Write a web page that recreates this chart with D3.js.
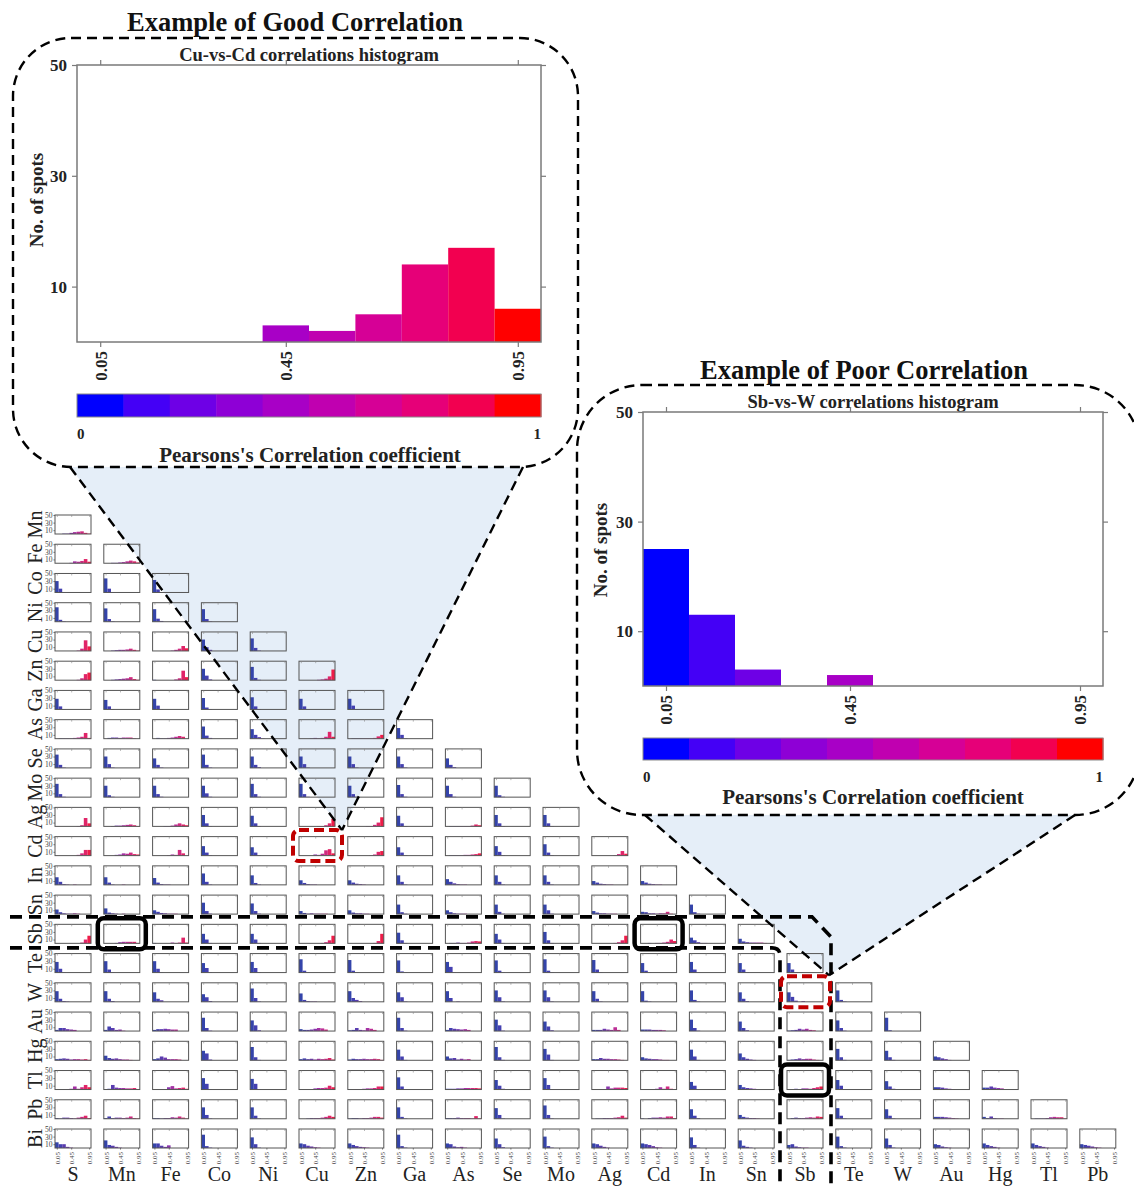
<!DOCTYPE html>
<html>
<head>
<meta charset="utf-8">
<script src="https://cdn.jsdelivr.net/npm/d3@7"></script>
<style>
  body { margin: 0; background: #fff; }
  svg { display: block; }
</style>
</head>
<body>
<svg id="fig" width="1134" height="1186"></svg>
<script>
// ---- element labels ----
const colElements = ["S","Mn","Fe","Co","Ni","Cu","Zn","Ga","As","Se","Mo","Ag","Cd","In","Sn","Sb","Te","W","Au","Hg","Tl","Pb"];
const rowElements = ["Mn","Fe","Co","Ni","Cu","Zn","Ga","As","Se","Mo","Ag","Cd","In","Sn","Sb","Te","W","Au","Hg","Tl","Pb","Bi"];

// ---- histogram bins (Pearson r) and ticks ----
const binEdges = [0,0.1,0.2,0.3,0.4,0.5,0.6,0.7,0.8,0.9,1];
const xTickValues = [0.05, 0.45, 0.95];
const xTickLabels = ["0.05","0.45","0.95"];
const yTickValues = [10, 30, 50];
const colorbarLabels = ["0","1"];

// ---- colours ----
const binColours = ["#0000ff","#4400f6","#6e00e6","#8e00d6","#a800c6","#c000b0","#d60096","#e60078","#f20050","#ff0000"];
const miniColours = ["#3444aa","#4440b0","#5a3cb0","#703ab0","#8a36ac","#a432a4","#bc2e96","#d02a80","#e02468","#ee1c48"];

// ---- the two highlighted pairs ----
const cuVsCd = [0,0,0,0,3,2,5,14,17,6];
const sbVsW  = [25,13,3,0,2,0,0,0,0,0];

// ---- counts per pair, one array per row element (columns S, Mn, Fe, ...) ----
const rowMn = [
  [0,0,1,1,3,5,6,7,3,1]
];
const rowFe = [
  [0,0,0,0,1,5,4,6,11,4],
  [0,0,1,1,2,3,5,7,5,2]
];
const rowCo = [
  [30,10,1,0,0,0,0,0,0,0],
  [37,10,1,0,0,0,0,0,0,0],
  [33,8,1,0,0,0,0,0,0,0]
];
const rowNi = [
  [38,5,1,0,0,0,0,0,0,0],
  [35,7,1,0,0,0,0,0,0,0],
  [33,8,2,0,0,0,0,0,0,0],
  [33,7,1,0,0,0,0,0,0,0]
];
const rowCu = [
  [0,0,0,0,0,0,1,6,28,12],
  [0,0,1,2,3,3,4,6,3,1],
  [0,0,0,0,0,1,3,6,13,7],
  [30,10,3,0,0,0,0,0,0,0],
  [33,8,1,0,0,0,0,0,0,0]
];
const rowZn = [
  [0,0,0,0,0,0,1,5,16,20],
  [0,0,1,2,3,4,5,8,3,1],
  [1,0,0,0,0,0,2,5,25,8],
  [30,12,2,0,0,0,0,0,0,0],
  [35,6,1,0,0,0,0,0,0,0],
  [0,0,0,0,0,1,2,4,10,28]
];
const rowGa = [
  [28,8,1,0,0,0,0,0,0,0],
  [25,8,1,0,0,0,0,0,0,0],
  [28,10,1,0,0,0,0,0,0,0],
  [30,5,1,0,0,0,0,0,0,0],
  [32,8,1,0,0,0,0,0,0,0],
  [28,8,1,0,0,0,0,0,0,0],
  [28,10,1,0,0,0,0,0,0,0]
];
const rowAs = [
  [0,1,1,1,1,2,3,5,15,2],
  [0,2,3,3,2,3,3,3,1,0],
  [0,2,1,1,2,3,5,7,5,0],
  [32,8,2,0,0,0,0,0,0,0],
  [25,10,4,1,0,0,0,0,0,0],
  [0,0,0,1,2,1,2,5,18,5],
  [0,1,1,1,1,1,1,2,6,10],
  [28,10,1,0,0,0,0,0,0,0]
];
const rowSe = [
  [35,8,1,0,0,0,0,0,0,0],
  [30,10,1,0,0,0,0,0,0,0],
  [25,8,1,0,0,0,0,0,0,0],
  [35,8,1,0,0,0,0,0,0,0],
  [30,8,2,0,0,0,0,0,0,0],
  [30,10,1,0,0,0,0,0,0,0],
  [30,10,1,0,0,0,0,0,0,0],
  [30,10,1,0,0,0,0,0,0,0],
  [25,8,2,0,0,0,0,0,0,0]
];
const rowMo = [
  [35,8,1,0,0,0,0,0,0,0],
  [30,5,1,0,0,0,0,0,0,0],
  [30,8,1,0,0,0,0,0,0,0],
  [30,10,1,0,0,0,0,0,0,0],
  [35,8,1,0,0,0,0,0,0,0],
  [35,8,1,0,0,0,0,0,0,0],
  [30,8,1,0,0,0,0,0,0,0],
  [32,8,1,0,0,0,0,0,0,0],
  [30,8,1,0,0,0,0,0,0,0],
  [30,5,1,0,0,0,0,0,0,0]
];
const rowAg = [
  [0,0,0,0,0,0,1,3,22,8],
  [0,0,1,2,2,3,4,5,3,1],
  [0,0,0,1,1,2,5,8,5,3],
  [30,8,1,0,0,0,0,0,0,0],
  [28,8,1,0,0,0,0,0,0,0],
  [0,0,0,0,0,1,1,3,8,20],
  [0,0,0,0,0,1,1,4,10,24],
  [28,8,1,0,0,0,0,0,0,0],
  [0,1,1,1,1,1,1,2,5,3],
  [30,8,1,0,0,0,0,0,0,0],
  [30,8,1,0,0,0,0,0,0,0]
];
const rowCd = [
  [0,0,0,0,0,0,2,6,15,15],
  [0,0,0,2,3,6,5,8,4,3],
  [0,0,0,0,1,3,2,15,6,0],
  [25,8,1,0,0,0,0,0,0,0],
  [22,8,1,0,0,0,0,0,0,0],
  cuVsCd,
  [0,0,0,0,0,0,1,3,10,12],
  [22,8,1,0,0,0,0,0,0,0],
  [0,1,1,1,1,2,2,3,4,6],
  [25,10,1,0,0,0,0,0,0,0],
  [30,8,1,0,0,0,0,0,0,0],
  [0,0,0,0,0,0,1,4,12,5]
];
const rowIn = [
  [20,8,2,1,0,1,0,0,0,0],
  [20,6,1,0,0,1,0,0,0,0],
  [18,6,2,1,1,0,0,0,0,0],
  [30,8,1,0,0,0,0,0,0,0],
  [25,5,1,0,0,0,0,0,0,0],
  [12,5,2,1,1,0,0,0,0,0],
  [12,6,3,2,1,0,0,0,0,0],
  [25,8,1,0,0,0,0,0,0,0],
  [15,8,4,2,1,1,0,0,0,0],
  [25,8,1,0,0,0,0,0,0,0],
  [25,8,1,0,0,0,0,0,0,0],
  [10,6,3,2,1,1,0,0,0,0],
  [10,6,3,2,1,1,0,0,0,0]
];
const rowSn = [
  [12,5,2,1,1,2,1,0,0,0],
  [15,4,2,1,0,1,0,0,0,0],
  [10,6,3,2,1,1,1,0,0,0],
  [30,8,1,0,0,0,0,0,0,0],
  [28,8,1,0,0,0,0,0,0,0],
  [8,3,1,2,1,1,1,1,0,0],
  [10,4,2,2,1,1,0,0,0,0],
  [25,5,1,0,0,0,0,0,0,0],
  [10,5,2,1,1,1,0,0,0,0],
  [25,6,1,0,0,0,0,0,0,0],
  [25,10,1,0,0,0,0,0,0,0],
  [8,4,2,2,1,1,1,0,0,0],
  [6,5,2,2,1,2,2,6,1,0],
  [25,5,1,0,0,0,0,0,0,0]
];
const rowSb = [
  [0,0,0,0,0,0,0,2,10,20],
  [0,0,0,1,3,4,4,4,4,1],
  [1,0,0,0,0,2,1,2,15,2],
  [25,10,1,0,0,0,0,0,0,0],
  [25,10,1,0,0,0,0,0,0,0],
  [0,0,0,0,0,0,1,3,8,20],
  [0,0,0,0,0,0,0,1,6,25],
  [28,8,1,0,0,0,0,0,0,0],
  [0,1,1,2,1,1,2,5,6,5],
  [25,10,1,0,0,0,0,0,0,0],
  [30,8,1,0,0,0,0,0,0,0],
  [0,0,0,0,0,0,1,3,8,20],
  [0,0,1,0,1,1,2,4,10,6],
  [15,8,3,1,1,0,0,0,0,0],
  [12,5,3,2,2,2,2,1,0,0]
];
const rowTe = [
  [28,10,1,0,0,0,0,0,0,0],
  [30,8,1,0,0,0,0,0,0,0],
  [30,10,1,0,0,0,0,0,0,0],
  [25,12,1,0,0,0,0,0,0,0],
  [28,12,1,0,0,0,0,0,0,0],
  [35,5,1,0,0,0,0,0,0,0],
  [33,5,1,0,0,0,0,0,0,0],
  [32,3,1,0,0,0,0,0,0,0],
  [28,15,1,0,0,0,0,0,0,0],
  [32,5,1,0,0,0,0,0,0,0],
  [35,5,1,0,0,0,0,0,0,0],
  [33,8,1,0,0,0,0,0,0,0],
  [25,5,1,0,0,0,0,0,0,0],
  [28,8,1,0,0,0,0,0,0,0],
  [25,8,1,0,0,0,0,0,0,0],
  [25,8,1,0,0,0,0,0,0,0]
];
const rowW = [
  [28,8,2,1,0,0,0,0,0,0],
  [28,8,2,0,0,0,0,0,0,0],
  [25,8,4,0,0,0,0,0,0,0],
  [20,12,2,0,0,0,0,0,0,0],
  [35,10,1,0,0,0,0,0,0,0],
  [22,5,2,1,1,0,0,0,0,0],
  [28,10,5,2,0,0,0,0,0,0],
  [25,12,1,0,0,0,0,0,0,0],
  [28,10,0,1,0,0,0,0,0,0],
  [30,12,1,0,0,0,0,0,0,0],
  [30,12,1,0,0,0,0,0,0,0],
  [28,8,1,0,0,0,0,0,0,0],
  [28,3,1,0,0,0,0,0,0,0],
  [30,5,1,0,0,0,0,0,0,0],
  [25,8,2,0,0,0,0,0,0,0],
  sbVsW,
  [30,5,1,0,0,0,0,0,0,0]
];
const rowAu = [
  [3,8,8,5,4,3,0,0,0,0],
  [3,12,8,3,4,1,0,0,0,0],
  [3,5,5,6,5,4,4,0,0,0],
  [35,8,1,0,0,0,0,0,0,0],
  [28,15,2,0,0,0,0,0,0,0],
  [5,3,3,4,6,8,7,4,0,0],
  [2,3,8,3,2,8,6,3,0,0],
  [35,8,1,0,0,0,0,0,0,0],
  [3,8,6,5,4,5,3,0,0,0],
  [30,15,1,0,0,0,0,0,0,0],
  [25,12,2,0,0,0,0,0,0,0],
  [3,3,3,6,4,3,10,3,0,0],
  [4,4,4,3,3,3,2,0,0,0],
  [30,8,1,0,0,0,0,0,0,0],
  [25,8,2,0,0,0,0,0,0,0],
  [1,2,3,6,4,6,3,2,0,0],
  [28,8,1,0,0,0,0,0,0,0],
  [35,2,0,0,0,0,0,0,0,0]
];
const rowHg = [
  [3,4,5,4,2,3,3,2,3,1],
  [12,6,4,5,3,2,2,1,0,0],
  [3,5,10,7,3,3,3,2,0,0],
  [25,18,2,0,0,0,0,0,0,0],
  [35,8,1,0,0,0,0,0,0,0],
  [3,5,3,4,2,4,3,4,6,2],
  [2,4,3,3,4,3,3,4,3,1],
  [28,10,1,0,0,0,0,0,0,0],
  [10,5,6,2,4,2,3,0,0,0],
  [35,8,1,0,0,0,0,0,0,0],
  [30,15,1,0,0,0,0,0,0,0],
  [3,3,6,4,4,3,3,2,1,0],
  [8,5,4,3,3,2,1,1,0,0],
  [28,10,1,0,0,0,0,0,0,0],
  [18,8,4,2,1,0,0,0,0,0],
  [1,2,3,5,3,4,4,2,1,0],
  [30,8,1,0,0,0,0,0,0,0],
  [25,8,1,0,0,0,0,0,0,0],
  [10,8,5,3,1,0,0,0,0,0]
];
const rowTl = [
  [0,1,1,1,2,8,2,6,12,6],
  [1,2,12,5,4,4,3,3,4,1],
  [0,1,1,1,6,9,3,4,5,2],
  [30,15,1,0,0,0,0,0,0,0],
  [28,15,1,0,0,0,0,0,0,0],
  [0,0,0,1,3,4,4,5,10,6],
  [0,0,1,1,2,3,3,4,8,8],
  [32,8,1,0,0,0,0,0,0,0],
  [2,2,2,3,3,4,4,4,4,3],
  [25,10,2,0,0,0,0,0,0,0],
  [30,12,1,0,0,0,0,0,0,0],
  [0,0,1,1,8,3,5,5,5,4],
  [0,0,0,1,2,6,2,8,2,0],
  [20,10,1,0,0,1,0,0,0,0],
  [12,6,4,3,2,1,0,0,0,0],
  [0,0,2,1,3,3,2,4,6,8],
  [25,10,1,0,0,0,0,0,0,0],
  [22,8,2,0,0,0,0,0,0,0],
  [6,6,5,3,2,1,0,0,0,0],
  [5,5,8,5,4,3,1,0,0,0]
];
const rowPb = [
  [2,1,3,3,2,1,3,5,8,2],
  [2,6,2,3,3,2,3,6,2,1],
  [2,2,1,2,2,4,3,6,3,1],
  [30,10,1,0,0,0,0,0,0,0],
  [30,8,1,0,0,0,0,0,0,0],
  [0,0,1,2,2,2,3,5,8,5],
  [1,2,2,1,2,2,3,5,5,3],
  [30,5,1,0,0,0,0,0,0,0],
  [2,2,2,3,2,2,2,1,7,1],
  [28,10,1,0,0,0,0,0,0,0],
  [35,10,1,0,0,0,0,0,0,0],
  [0,1,1,2,2,2,3,4,8,3],
  [1,0,2,3,3,4,3,6,6,2],
  [25,8,2,0,0,0,0,0,0,0],
  [10,5,3,2,2,1,0,0,0,0],
  [0,2,3,2,2,3,4,3,6,5],
  [28,8,1,0,0,0,0,0,0,0],
  [25,8,1,0,0,0,0,0,0,0],
  [5,5,5,4,3,2,1,0,0,0],
  [5,2,6,2,1,1,0,0,0,0],
  [0,1,1,1,2,4,5,4,4,1]
];
const rowBi = [
  [15,10,10,3,1,0,0,0,0,0],
  [20,8,6,3,1,0,0,0,0,0],
  [12,12,6,3,7,0,0,0,0,0],
  [35,5,1,0,0,0,0,0,0,0],
  [28,10,1,0,0,0,0,0,0,0],
  [12,10,6,4,2,1,0,0,0,0],
  [12,8,5,3,2,1,0,0,0,0],
  [35,5,1,0,0,0,0,0,0,0],
  [12,10,4,2,3,1,0,0,0,0],
  [25,10,2,0,0,0,0,0,0,0],
  [30,5,1,0,0,0,0,0,0,0],
  [12,10,6,3,1,0,0,0,0,0],
  [12,10,8,5,2,1,0,0,0,0],
  [28,8,1,0,0,0,0,0,0,0],
  [20,6,3,1,0,0,0,0,0,0],
  [8,10,4,2,1,1,0,0,0,0],
  [30,5,1,0,0,0,0,0,0,0],
  [25,8,1,0,0,0,0,0,0,0],
  [10,8,4,2,1,0,0,0,0,0],
  [12,8,5,3,1,0,0,0,0,0],
  [12,8,5,3,1,0,0,0,0,0],
  [10,8,6,4,2,1,0,0,0,0]
];
const matrixRows = [rowMn,rowFe,rowCo,rowNi,rowCu,rowZn,rowGa,rowAs,rowSe,rowMo,rowAg,
                    rowCd,rowIn,rowSn,rowSb,rowTe,rowW,rowAu,rowHg,rowTl,rowPb,rowBi];

// ---------------------------------------------------------------
const svg = d3.select("#fig");
const serif = "'Liberation Serif','Times New Roman',serif";
svg.append("rect").attr("width",1134).attr("height",1186).attr("fill","#fff");

// matrix placement
const colPos = d3.scalePoint().domain(colElements).range([73, 1097.8]);
const rowPos = d3.scalePoint().domain(rowElements).range([524.5, 1138.5]);
const miniX = d3.scaleLinear().domain([0, 1]).range([-18, 18]);
const miniY = d3.scaleLinear().domain([0, 50]).range([9.5, -9.5]);

// highlighted cells (row element, column element)
const cdCu = { x: colPos("Cu"), y: rowPos("Cd") };
const wSb  = { x: colPos("Sb"), y: rowPos("W") };

// ---- zoom wedges (light shading behind the grid) ----
const wedge1 = [[70,467],[523,467],[cdCu.x + 25, cdCu.y - 16]];
const wedge2 = [[645,815],[1075,815],[wSb.x + 24, wSb.y - 17]];
const wedgeLayer = svg.append("g");
[wedge1, wedge2].forEach(w => {
  wedgeLayer.append("path")
    .attr("d", d3.line()(w) + "Z")
    .attr("fill", "#e5eef8");
});

// ---- the grid of small histograms ----
const grid = svg.append("g").attr("font-family", serif);
matrixRows.forEach((cells, ri) => {
  const rowName = rowElements[ri];
  cells.forEach((counts, ci) => {
    const colName = colElements[ci];
    const g = grid.append("g")
      .attr("transform", `translate(${colPos(colName)},${rowPos(rowName)})`);
    g.selectAll("rect.bar")
      .data(counts.map((v, k) => ({ v, k })).filter(d => d.v > 0))
      .join("rect")
      .attr("class", "bar")
      .attr("x", d => miniX(binEdges[d.k]))
      .attr("width", d => miniX(binEdges[d.k + 1]) - miniX(binEdges[d.k]))
      .attr("y", d => miniY(d.v))
      .attr("height", d => miniY(0) - miniY(d.v))
      .attr("fill", d => miniColours[d.k]);
    g.append("rect")
      .attr("x", miniX(0)).attr("y", miniY(50))
      .attr("width", miniX(1) - miniX(0)).attr("height", miniY(0) - miniY(50))
      .attr("fill", "none").attr("stroke", "#555").attr("stroke-width", 1);
    // small inward ticks along the top edge
    const topAxis = g.append("g").attr("transform", `translate(0,${miniY(50)})`)
      .call(d3.axisTop(miniX).tickValues(xTickValues).tickSize(-2).tickFormat(""));
    topAxis.select(".domain").remove();
    topAxis.selectAll("line").attr("stroke", "#888").attr("stroke-width", 0.6);

    if (ci === 0) {
      const ya = g.append("g").attr("transform", `translate(${miniX(0)},0)`)
        .call(d3.axisLeft(miniY).tickValues(yTickValues).tickSize(1.5).tickPadding(1));
      ya.select(".domain").remove();
      ya.selectAll("line").attr("stroke", "#666");
      ya.selectAll("text").attr("font-size", 7.5).attr("fill", "#444").attr("font-family", serif);
    }
    if (ri === rowElements.length - 1) {
      const xa = g.append("g").attr("transform", `translate(0,${miniY(0)})`)
        .call(d3.axisBottom(miniX).tickValues(xTickValues).tickSize(1.5)
          .tickFormat((d, i) => xTickLabels[i]));
      xa.select(".domain").remove();
      xa.selectAll("line").attr("stroke", "#666");
      xa.selectAll("text")
        .attr("font-size", 7).attr("fill", "#444").attr("font-family", serif)
        .attr("transform", "rotate(-90)")
        .attr("x", -4).attr("y", 0).attr("dy", "0.35em")
        .attr("text-anchor", "end");
    }
  });
});

// element names along both edges
grid.selectAll("text.rowName")
  .data(rowElements).join("text")
  .attr("class", "rowName")
  .attr("transform", d => `translate(41.5,${rowPos(d)}) rotate(-90)`)
  .attr("text-anchor", "middle")
  .attr("font-size", 20).attr("fill", "#222")
  .text(d => d);
grid.selectAll("text.colName")
  .data(colElements).join("text")
  .attr("class", "colName")
  .attr("x", d => colPos(d)).attr("y", 1181)
  .attr("text-anchor", "middle")
  .attr("font-size", 20).attr("fill", "#222")
  .text(d => d);

// ---- enlarged histograms ----
function drawInset(o) {
  const g = svg.append("g").attr("font-family", serif).attr("font-weight", "bold");
  g.append("rect")
    .attr("x", o.frame[0]).attr("y", o.frame[1])
    .attr("width", o.frame[2]).attr("height", o.frame[3])
    .attr("rx", o.radius)
    .attr("fill", "none").attr("stroke", "#000")
    .attr("stroke-width", 2.4).attr("stroke-dasharray", "10 6");

  const x = d3.scaleLinear().domain([0, 1]).range(o.xRange);
  const y = d3.scaleLinear().domain([0, 50]).range(o.yRange);

  g.append("text").attr("x", o.heading[0]).attr("y", o.heading[1])
    .attr("text-anchor", "middle").attr("font-size", 26.5).attr("fill", "#111")
    .text(o.headingText);
  g.append("text").attr("x", (o.xRange[0] + o.xRange[1]) / 2).attr("y", o.yRange[1] - 4)
    .attr("text-anchor", "middle").attr("font-size", 18.5).attr("fill", "#222")
    .text(o.title);

  g.selectAll("rect.bar")
    .data(o.counts.map((v, k) => ({ v, k })).filter(d => d.v > 0))
    .join("rect").attr("class", "bar")
    .attr("x", d => x(binEdges[d.k]))
    .attr("width", d => x(binEdges[d.k + 1]) - x(binEdges[d.k]))
    .attr("y", d => y(d.v))
    .attr("height", d => y(0) - y(d.v))
    .attr("fill", d => binColours[d.k]);

  g.append("rect")
    .attr("x", o.xRange[0]).attr("y", o.yRange[1])
    .attr("width", o.xRange[1] - o.xRange[0]).attr("height", o.yRange[0] - o.yRange[1])
    .attr("fill", "none").attr("stroke", "#7a7a7a").attr("stroke-width", 1.5);

  const styleAxis = a => {
    a.select(".domain").remove();
    a.selectAll("line").attr("stroke", "#7a7a7a").attr("stroke-width", 1.2);
  };
  const left = g.append("g").attr("transform", `translate(${o.xRange[0]},0)`)
    .call(d3.axisLeft(y).tickValues(yTickValues).tickSize(5).tickPadding(5));
  styleAxis(left);
  left.selectAll("text").attr("font-size", 17).attr("fill", "#222").attr("font-family", serif);
  const right = g.append("g").attr("transform", `translate(${o.xRange[1]},0)`)
    .call(d3.axisRight(y).tickValues(yTickValues).tickSize(5).tickFormat(""));
  styleAxis(right);
  const top = g.append("g").attr("transform", `translate(0,${o.yRange[1]})`)
    .call(d3.axisTop(x).tickValues(xTickValues).tickSize(5).tickFormat(""));
  styleAxis(top);
  const bottom = g.append("g").attr("transform", `translate(0,${o.yRange[0]})`)
    .call(d3.axisBottom(x).tickValues(xTickValues).tickSize(5)
      .tickFormat((d, i) => xTickLabels[i]));
  styleAxis(bottom);
  bottom.selectAll("text")
    .attr("font-size", 17).attr("fill", "#222").attr("font-family", serif)
    .attr("transform", "rotate(-90)")
    .attr("x", -9).attr("y", 0).attr("dy", "0.35em")
    .attr("text-anchor", "end");

  g.append("text")
    .attr("transform", `translate(${o.yLabel[0]},${o.yLabel[1]}) rotate(-90)`)
    .attr("text-anchor", "middle").attr("font-size", 19).attr("fill", "#222")
    .text("No. of spots");

  // colour bar
  const cb = g.append("g");
  cb.selectAll("rect")
    .data(binColours).join("rect")
    .attr("x", (c, i) => x(binEdges[i]))
    .attr("width", (c, i) => x(binEdges[i + 1]) - x(binEdges[i]) + 0.5)
    .attr("y", o.colorbar[0]).attr("height", o.colorbar[1] - o.colorbar[0])
    .attr("fill", c => c);
  cb.append("rect")
    .attr("x", o.xRange[0]).attr("y", o.colorbar[0])
    .attr("width", o.xRange[1] - o.xRange[0]).attr("height", o.colorbar[1] - o.colorbar[0])
    .attr("fill", "none").attr("stroke", "#8a8a8a").attr("stroke-width", 1);
  g.append("text").attr("x", x(0)).attr("y", o.colorbar[1] + 22)
    .attr("font-size", 15).attr("fill", "#222").text(colorbarLabels[0]);
  g.append("text").attr("x", x(1)).attr("y", o.colorbar[1] + 22)
    .attr("text-anchor", "end").attr("font-size", 15).attr("fill", "#222").text(colorbarLabels[1]);
  g.append("text").attr("x", o.caption[0]).attr("y", o.caption[1])
    .attr("text-anchor", "middle").attr("font-size", 21).attr("fill", "#222")
    .text("Pearsons's Correlation coefficient");
}

drawInset({
  frame: [13, 38, 565, 429], radius: 58,
  xRange: [77, 541], yRange: [342, 65],
  heading: [295, 31], headingText: "Example of Good Correlation",
  title: "Cu-vs-Cd correlations histogram",
  counts: cuVsCd,
  yLabel: [43, 200],
  colorbar: [394, 417],
  caption: [310, 462]
});
drawInset({
  frame: [577, 385, 563, 430], radius: 65,
  xRange: [643, 1103], yRange: [686, 412],
  heading: [864, 379], headingText: "Example of Poor Correlation",
  title: "Sb-vs-W correlations histogram",
  counts: sbVsW,
  yLabel: [607, 550],
  colorbar: [738, 760],
  caption: [873, 804]
});

// ---- callout lines ----
const callouts = svg.append("g").attr("fill", "none").attr("stroke", "#000");
[wedge1, wedge2].forEach(w => {
  callouts.append("path").attr("d", d3.line()([w[0], w[2]]))
    .attr("stroke-width", 2.4).attr("stroke-dasharray", "10 6");
  callouts.append("path").attr("d", d3.line()([w[1], w[2]]))
    .attr("stroke-width", 2.4).attr("stroke-dasharray", "10 6");
});

// band around the Sb row and Sb column
const sbRowY = rowPos("Sb"), sbColX = colPos("Sb");
const bandTop = sbRowY - 17, bandBottom = sbRowY + 14;
const bandLeft = sbColX - 25, bandRight = sbColX + 26;
callouts.append("path")
  .attr("d", `M10,${bandTop} H${bandRight - 19} L${bandRight},${bandTop + 20} V1186`)
  .attr("stroke-width", 3.6).attr("stroke-dasharray", "12 7");
callouts.append("path")
  .attr("d", `M10,${bandBottom} H${bandLeft - 8} Q${bandLeft},${bandBottom} ${bandLeft},${bandBottom + 8} V1186`)
  .attr("stroke-width", 3.6).attr("stroke-dasharray", "12 7");

// solid boxes on notable pairs
const solidPairs = [["Sb","Mn"],["Sb","Cd"],["Tl","Sb"]];
solidPairs.forEach(([r, c]) => {
  callouts.append("rect")
    .attr("x", colPos(c) - 24).attr("y", rowPos(r) - 15.5)
    .attr("width", 48).attr("height", 31).attr("rx", 6)
    .attr("stroke-width", 4.5);
});

// red dashed boxes on the enlarged pairs
[cdCu, wSb].forEach(p => {
  callouts.append("rect")
    .attr("x", p.x - 24).attr("y", p.y - 16)
    .attr("width", 49).attr("height", 31).attr("rx", 6)
    .attr("stroke", "#c00000").attr("stroke-width", 4)
    .attr("stroke-dasharray", "10 5");
});
</script>
</body>
</html>
